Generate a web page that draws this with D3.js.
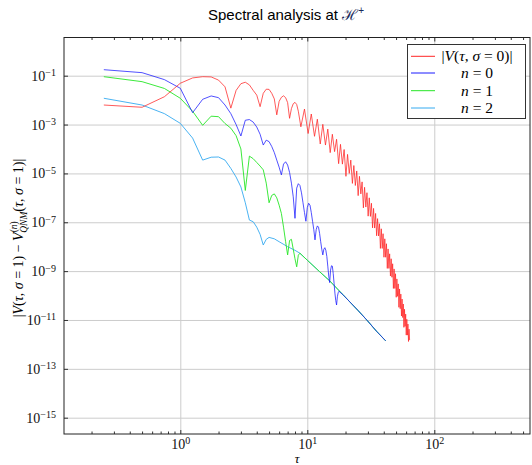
<!DOCTYPE html>
<html>
<head>
<meta charset="utf-8">
<script src="https://cdn.jsdelivr.net/npm/d3@7"></script>
<style>
  body { margin: 0; background: #fff; }
  svg { display: block; }
</style>
</head>
<body>
<script>
// [tau, value]
const redData = [
  [0.25, 6.3e-3], [0.5, 5.1e-3], [0.75, 1.38e-2], [1, 4.9e-2], [1.25, 8.1e-2], [1.5, 9.1e-2],
  [1.75, 8.9e-2], [2, 6.6e-2], [2.25, 3.5e-2], [2.5, 4.7e-3], [2.75, 2.5e-2], [3, 4.7e-2],
  [3.25, 5.4e-2], [3.5, 4.2e-2], [3.75, 2.5e-2], [4, 1.6e-2], [4.25, 5.4e-3], [4.5, 1.9e-2],
  [4.75, 2.8e-2], [5, 2.75e-2], [5.25, 1.9e-2], [5.5, 1.12e-2], [5.75, 2.5e-3], [6, 8.9e-3],
  [6.25, 1.3e-2], [6.5, 1.5e-2], [6.75, 1.26e-2], [7, 7.9e-3], [7.25, 1.8e-3], [7.5, 4.5e-3],
  [7.75, 7.1e-3], [8, 8.1e-3], [8.25, 6.6e-3], [8.5, 3.5e-3], [8.9, 8.1e-4],
  [9.5, 4.3e-3], [10.15, 4.3e-4], [10.75, 2.7e-3], [11.4, 3.3e-4], [12, 1.66e-3], [12.65, 1.6e-4],
  [13.25, 1.02e-3], [13.9, 1.45e-4], [14.5, 6.5e-4], [15.15, 7.1e-5], [15.75, 4.0e-4], [16.4, 7.8e-5],
  [17, 2.5e-4], [17.65, 2.5e-5], [18.25, 1.55e-4], [18.9, 2.4e-5], [19.5, 9.5e-5], [20.15, 7.6e-6],
  [20.75, 6.0e-5], [21.4, 1.0e-5], [22, 3.5e-5], [22.65, 3.9e-6], [23.25, 2.1e-5], [23.9, 3.2e-6],
  [24.5, 1.26e-5], [25.15, 1.23e-6], [25.75, 7.6e-6], [26.4, 1.45e-6], [27, 4.5e-6], [27.65, 3.9e-7],
  [28.25, 2.7e-6], [28.9, 4.2e-7], [29.5, 1.62e-6], [30.15, 1.78e-7], [30.75, 1.0e-6], [31.4, 1.74e-7],
  [32, 6.0e-7], [32.65, 5.9e-8], [33.25, 3.7e-7], [33.9, 5.8e-8], [34.5, 2.3e-7], [35.15, 2.8e-8],
  [35.75, 1.41e-7], [36.4, 2.75e-8], [37, 8.7e-8], [37.65, 8.5e-9], [38.25, 5.4e-8], [38.9, 8.5e-9],
  [39.5, 3.4e-8], [40.15, 3.7e-9], [40.75, 2.1e-8], [41.4, 3.7e-9], [42, 1.32e-8], [42.65, 1.29e-9],
  [43.25, 8.1e-9], [43.9, 1.29e-9], [44.5, 5.1e-9], [45.15, 6.3e-10], [45.75, 3.2e-9], [46.4, 5.6e-10],
  [47, 2.0e-9], [47.65, 1.95e-10], [48.25, 1.23e-9], [48.9, 1.95e-10], [49.5, 7.8e-10], [50.15, 8.5e-11],
  [50.75, 4.8e-10], [51.4, 9.3e-11], [52, 3.0e-10], [52.65, 3.3e-11], [53.25, 1.86e-10], [53.9, 2.9e-11],
  [54.5, 1.15e-10], [55.15, 1.45e-11], [55.75, 7.2e-11], [56.4, 1.26e-11], [57, 4.5e-11], [57.65, 5.0e-12],
  [58.25, 2.75e-11], [58.9, 5.5e-12], [59.5, 1.74e-11], [60.15, 2.4e-12], [60.75, 1.07e-11], [61.4, 2.4e-12],
  [62, 6.8e-12], [62.65, 1.32e-12], [63.25, 4.2e-12], [63.9, 1.5e-12]
];

const n0Data = [
  [0.25, 1.76e-1], [0.5, 1.33e-1], [0.75, 6.9e-2], [1, 3.05e-2], [1.25, 3.06e-3], [1.5, 1.08e-2],
  [1.75, 1.48e-2], [2, 1.26e-2], [2.25, 6.3e-3], [2.5, 2.8e-3], [2.75, 1.0e-3], [3, 3.4e-4],
  [3.25, 1.5e-3], [3.5, 1.6e-3], [3.75, 1.26e-3], [4, 7.9e-4], [4.25, 4.0e-4], [4.5, 1.45e-4],
  [4.75, 2.3e-4], [5, 2.0e-4], [5.25, 1.26e-4], [5.5, 7.1e-5], [5.75, 3.5e-5], [6, 1.8e-5],
  [6.25, 8.7e-6], [6.5, 2.4e-5], [6.75, 3.0e-5], [7, 2.2e-5], [7.25, 1.1e-5], [7.5, 4.0e-6],
  [7.75, 1.1e-6], [8, 1.45e-7], [8.25, 2.5e-6], [8.5, 3.8e-6], [8.75, 3.2e-6], [9, 1.6e-6],
  [9.25, 6.3e-7], [9.5, 2.5e-7], [9.75, 1.1e-7], [10, 4.0e-7], [10.25, 6.0e-7], [10.5, 5.0e-7],
  [10.75, 2.5e-7], [11, 1.1e-7], [11.25, 5.0e-8], [11.5, 1.9e-8], [11.75, 5.0e-8], [12, 7.1e-8],
  [12.25, 6.3e-8], [12.5, 3.5e-8], [12.75, 1.6e-8], [13, 7.9e-9], [13.25, 4.6e-9], [13.5, 7.9e-9],
  [13.75, 9.1e-9], [14, 7.1e-9], [14.25, 4.0e-9], [14.5, 1.6e-9], [14.75, 6.3e-10], [15, 3.4e-10],
  [15.25, 1.1e-9], [15.5, 1.66e-9], [15.75, 1.6e-9], [16, 7.9e-10], [16.25, 3.2e-10], [16.5, 1.26e-10],
  [16.75, 6.3e-11], [17, 4.1e-11], [17.25, 8.9e-11], [17.5, 1.3e-10], [17.75, 1.5e-10]
];

const n1Data = [
  [0.25, 9.1e-2], [0.5, 5.7e-2], [0.75, 3.0e-2], [1, 1.19e-2], [1.25, 3.5e-3], [1.5, 9.3e-4],
  [1.75, 2.2e-3], [2, 2.1e-3], [2.25, 1.1e-3], [2.5, 7.1e-4], [2.75, 3.5e-4], [3, 1.0e-4],
  [3.25, 2.0e-6], [3.5, 5.1e-5], [3.75, 4.0e-5], [4, 2.8e-5], [4.25, 2.0e-5], [4.5, 1.4e-5],
  [4.75, 4.0e-6], [5, 6.3e-7], [5.25, 1.26e-6], [5.5, 1.45e-6], [5.75, 1.0e-6], [6, 5.0e-7],
  [6.25, 2.3e-7], [6.5, 6.3e-8], [6.75, 1.6e-8], [7, 4.6e-9], [7.25, 1.8e-8], [7.5, 2.0e-8],
  [7.75, 7.9e-9], [8, 3.2e-9], [8.25, 1.5e-9], [8.5, 4.5e-9], [8.75, 5.4e-9]
];

const n2Data = [
  [0.25, 1.19e-2], [0.5, 6.3e-3], [0.75, 2.8e-3], [1, 1.12e-3], [1.25, 2.8e-4], [1.5, 3.5e-5],
  [1.75, 4.6e-5], [2, 4.7e-5], [2.25, 3.5e-5], [2.5, 1.6e-5], [2.75, 7.1e-6], [3, 2.8e-6],
  [3.25, 6.3e-7], [3.5, 1.23e-7], [3.75, 1.05e-7], [4, 6.3e-8], [4.25, 3.2e-8], [4.5, 1.17e-8],
  [4.75, 2.0e-8], [5, 2.4e-8], [5.5, 2.1e-8], [6, 1.6e-8], [7, 1.0e-8], [8, 7.1e-9], [8.75, 5.4e-9]
];

// common late-time tail that the three QNM residuals fall onto
const tailData = [
  [10, 2.8e-9], [12.5, 9.5e-10], [15, 4.0e-10], [19.2, 1.05e-10], [25, 2.5e-11],
  [29.4, 1.0e-11], [35, 3.5e-12], [41.4, 1.4e-12]
];

const xMajor = [1, 10, 100];
const xMinor = [0.2, 0.3, 0.4, 0.5, 0.6, 0.7, 0.8, 0.9, 2, 3, 4, 5, 6, 7, 8, 9, 20, 30, 40, 50, 60, 70, 80, 90, 200, 300, 400, 500];
const yMajor = [1e-1, 1e-3, 1e-5, 1e-7, 1e-9, 1e-11, 1e-13, 1e-15];

const width = 532;
const height = 465;
const plotLeft = 64, plotRight = 530, plotTop = 37.5, plotBottom = 434;
const serif = '"Liberation Serif", "DejaVu Serif", serif';

const withTail = function(data) {
  const last = data[data.length - 1][0];
  return data.concat(tailData.filter(function(d) { return d[0] > last; }));
};

const series = [
  { label: 'red', data: redData, color: '#ff2626' },
  { label: 'n0', data: withTail(n0Data), color: '#1a1aff' },
  { label: 'n1', data: withTail(n1Data), color: '#26e626' },
  { label: 'n2', data: withTail(n2Data), color: '#35aaf0' }
];

const svg = d3.select('body').append('svg').attr('width', width).attr('height', height);

const x = d3.scaleLog().domain([0.1214, 567]).range([plotLeft, plotRight]);
const y = d3.scaleLog().domain([3.66, 2.15e-16]).range([plotTop, plotBottom]);

// grid
svg.append('g')
  .attr('transform', 'translate(0,' + plotBottom + ')')
  .call(d3.axisBottom(x).tickValues(xMajor).tickSize(-(plotBottom - plotTop)).tickFormat(''))
  .call(function(g) { g.select('.domain').remove(); })
  .selectAll('line').attr('stroke', '#cccccc');

svg.append('g')
  .attr('transform', 'translate(' + plotLeft + ',0)')
  .call(d3.axisLeft(y).tickValues(yMajor).tickSize(-(plotRight - plotLeft)).tickFormat(''))
  .call(function(g) { g.select('.domain').remove(); })
  .selectAll('line').attr('stroke', '#cccccc');

// curves
svg.append('clipPath').attr('id', 'clip')
  .append('rect').attr('x', plotLeft).attr('y', plotTop)
  .attr('width', plotRight - plotLeft).attr('height', plotBottom - plotTop);

const line = d3.line()
  .x(function(d) { return x(d[0]); })
  .y(function(d) { return y(d[1]); });

svg.append('g')
  .attr('clip-path', 'url(#clip)')
  .selectAll('path')
  .data(series.slice().reverse())
  .enter()
  .append('path')
  .attr('d', function(d) { return line(d.data); })
  .attr('fill', 'none')
  .attr('stroke', function(d) { return d.color; })
  .attr('stroke-width', 0.9)
  .attr('stroke-opacity', function(d) { return d.label === 'n2' || d.label === 'n1' ? 1 : 0.85; })
  .attr('stroke-linejoin', 'round');

// axes
const pow10 = function(sel) {
  sel.each(function(d) {
    const e = Math.round(Math.log10(d));
    const t = d3.select(this);
    t.text(null).attr('font-family', serif).attr('font-size', 14).attr('fill', '#111');
    t.append('tspan').text('10');
    t.append('tspan').attr('dy', '-0.45em').attr('font-size', 10).text(String(e).replace('-', '\u2212'));
  });
};

const styleAxis = function(g) {
  g.select('.domain').remove();
  g.selectAll('line').attr('stroke', '#333');
};

svg.append('g')
  .attr('transform', 'translate(0,' + plotBottom + ')')
  .call(d3.axisBottom(x).tickValues(xMinor).tickSize(-2.5).tickFormat(''))
  .call(styleAxis);
svg.append('g')
  .attr('transform', 'translate(0,' + plotTop + ')')
  .call(d3.axisTop(x).tickValues(xMinor).tickSize(-2.5).tickFormat(''))
  .call(styleAxis);
svg.append('g')
  .attr('transform', 'translate(0,' + plotTop + ')')
  .call(d3.axisTop(x).tickValues(xMajor).tickSize(-4).tickFormat(''))
  .call(styleAxis);

svg.append('g')
  .attr('transform', 'translate(0,' + plotBottom + ')')
  .call(d3.axisBottom(x).tickValues(xMajor).tickSize(-4).tickPadding(5))
  .call(styleAxis)
  .selectAll('text').call(pow10);

svg.append('g')
  .attr('transform', 'translate(' + plotLeft + ',0)')
  .call(d3.axisLeft(y).tickValues(yMajor).tickSize(-4).tickPadding(8))
  .call(styleAxis)
  .selectAll('text').call(pow10);

svg.append('rect')
  .attr('x', plotLeft).attr('y', plotTop)
  .attr('width', plotRight - plotLeft).attr('height', plotBottom - plotTop)
  .attr('fill', 'none').attr('stroke', '#222').attr('stroke-width', 1);

// text helper: [text, italic, size, dy, dx]
const addParts = function(txt, parts) {
  parts.forEach(function(p) {
    const s = txt.append('tspan').text(p[0]);
    if (p[1]) s.attr('font-style', 'italic');
    if (p[2]) s.attr('font-size', p[2]);
    if (p[3]) s.attr('dy', p[3]);
    if (p[4]) s.attr('dx', p[4]);
  });
};

// title
const title = svg.append('text')
  .attr('x', 286).attr('y', 20)
  .attr('text-anchor', 'middle')
  .attr('font-family', '"Liberation Sans", Arial, sans-serif')
  .attr('font-size', 15)
  .text('Spectral analysis at ');
title.append('tspan').attr('font-family', '"DejaVu Serif", serif').attr('fill', '#1a2a5a').text('\u210B');
title.append('tspan').attr('font-size', 10).attr('dy', -6).attr('fill', '#1a2a5a').text('+');

// x label
svg.append('text')
  .attr('x', 297).attr('y', 463)
  .attr('text-anchor', 'middle')
  .attr('font-family', serif).attr('font-style', 'italic').attr('font-size', 13)
  .text('\u03C4');

// y label
const ylab = svg.append('text')
  .attr('transform', 'translate(23,238) rotate(-90)')
  .attr('text-anchor', 'middle')
  .attr('font-family', serif).attr('font-size', 14);
addParts(ylab, [
  ['|'], ['V', 1], ['('], ['\u03C4', 1], [', '], ['\u03C3', 1], [' = 1) \u2212 '], ['V', 1],
  ['(', 0, 9.5, -6], ['n', 1, 9.5], [')', 0, 9.5], ['QNM', 1, 9.5, 10, -11.5],
  ['(', 0, 14, -4], ['\u03C4', 1], [', '], ['\u03C3', 1], [' = 1)|']
]);

// legend
const legend = svg.append('g');
legend.append('rect')
  .attr('x', 407.5).attr('y', 44.5).attr('width', 118).attr('height', 74)
  .attr('fill', '#fff').attr('stroke', '#333').attr('stroke-width', 1);

const legendRows = [56.3, 73, 90.7, 108];
const legendText = [
  [['|'], ['V', 1], ['('], ['\u03C4', 1], [', '], ['\u03C3', 1], [' = 0)|']],
  [['n', 1], [' = 0']],
  [['n', 1], [' = 1']],
  [['n', 1], [' = 2']]
];

series.forEach(function(s, i) {
  legend.append('line')
    .attr('x1', 411).attr('x2', 435)
    .attr('y1', legendRows[i]).attr('y2', legendRows[i])
    .attr('stroke', s.color).attr('stroke-width', 1);
  const t = legend.append('text')
    .attr('x', 477).attr('y', legendRows[i] + 5)
    .attr('text-anchor', 'middle')
    .attr('font-family', serif).attr('font-size', 15.5);
  addParts(t, legendText[i]);
});
</script>
</body>
</html>
